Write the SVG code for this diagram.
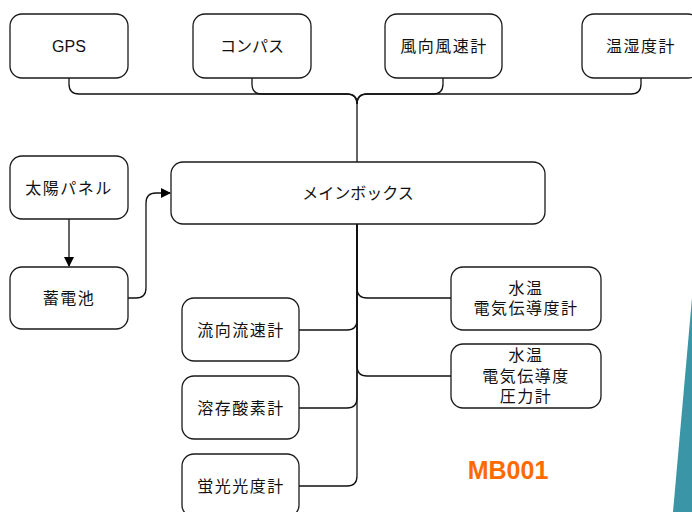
<svg xmlns="http://www.w3.org/2000/svg" width="692" height="512" viewBox="0 0 692 512">
<style>
.box{fill:#fff;stroke:#1a1a1a;stroke-width:1.3}
.t{font-family:"Liberation Sans","Noto Sans CJK JP",sans-serif;font-size:16px;fill:#111;text-anchor:middle;dominant-baseline:central}
.k{letter-spacing:1.5px}
.c{fill:none;stroke:#111;stroke-width:1.3}
</style>
<defs>
<marker id="ah" markerWidth="10" markerHeight="10" refX="9" refY="5" orient="auto" markerUnits="userSpaceOnUse">
<path d="M0,0 L10,5 L0,10 Z" fill="#000"/>
</marker>
</defs>
<rect width="692" height="512" fill="#fff"/>
<polygon points="692,298 692,512 673,512" fill="#3A96A6"/>
<g id="connectors">
<path class="c" d="M69,78 V84 Q69,94 79,94 H347 Q357,94 357,104 V162"/>
<path class="c" d="M252,78 V84 Q252,94 262,94 H347 Q357,94 357,104"/>
<path class="c" d="M443,78 V84 Q443,94 433,94 H367 Q357,94 357,104"/>
<path class="c" d="M641,78 V84 Q641,94 631,94 H367 Q357,94 357,104"/>
<path class="c" d="M69,219 V266" marker-end="url(#ah)"/>
<path class="c" d="M128,298 H136 Q146,298 146,288 V203 Q146,193 156,193 H170" marker-end="url(#ah)"/>
<path class="c" d="M357,224 V288 Q357,298 367,298 H451"/>
<path class="c" d="M357,224 V366 Q357,376 367,376 H451"/>
<path class="c" d="M357,224 V320 Q357,330 347,330 H299"/>
<path class="c" d="M357,224 V398 Q357,408 347,408 H299"/>
<path class="c" d="M357,224 V476 Q357,486 347,486 H299"/>
</g>
<g id="gps"><rect class="box" x="10" y="14" width="118" height="64" rx="12"/><text class="t" x="69" y="46">GPS</text></g>
<g id="compass"><rect class="box" x="193" y="14" width="118" height="64" rx="12"/><text class="t" x="252" y="46">コンパス</text></g>
<g id="wind"><rect class="box" x="385" y="14" width="117" height="64" rx="12"/><text class="t k" x="444" y="46">風向風速計</text></g>
<g id="temphum"><rect class="box" x="582" y="14" width="118" height="64" rx="12"/><text class="t k" x="641" y="46">温湿度計</text></g>
<g id="solar"><rect class="box" x="10" y="156" width="118" height="63" rx="12"/><text class="t k" x="69" y="188">太陽パネル</text></g>
<g id="battery"><rect class="box" x="10" y="267" width="118" height="62" rx="12"/><text class="t k" x="69" y="298">蓄電池</text></g>
<g id="mainbox"><rect class="box" x="171" y="162" width="374" height="62" rx="12"/><text class="t" x="358" y="193">メインボックス</text></g>
<g id="ec"><rect class="box" x="451" y="267" width="150" height="63" rx="12"/><text class="t k" x="526" y="288">水温</text><text class="t k" x="526" y="308">電気伝導度計</text></g>
<g id="ecp"><rect class="box" x="451" y="344" width="150" height="64" rx="12"/><text class="t k" x="526" y="355">水温</text><text class="t k" x="526" y="376">電気伝導度</text><text class="t k" x="526" y="396">圧力計</text></g>
<g id="flow"><rect class="box" x="182" y="298" width="117" height="63" rx="12"/><text class="t k" x="241" y="330">流向流速計</text></g>
<g id="do"><rect class="box" x="182" y="376" width="117" height="63" rx="12"/><text class="t k" x="241" y="408">溶存酸素計</text></g>
<g id="fluor"><rect class="box" x="182" y="454" width="117" height="63" rx="12"/><text class="t k" x="241" y="486">蛍光光度計</text></g>
<text x="508" y="479" font-family="Liberation Sans, Arial, sans-serif" font-weight="bold" font-size="25" fill="#FF6A00" text-anchor="middle">MB001</text>
</svg>
